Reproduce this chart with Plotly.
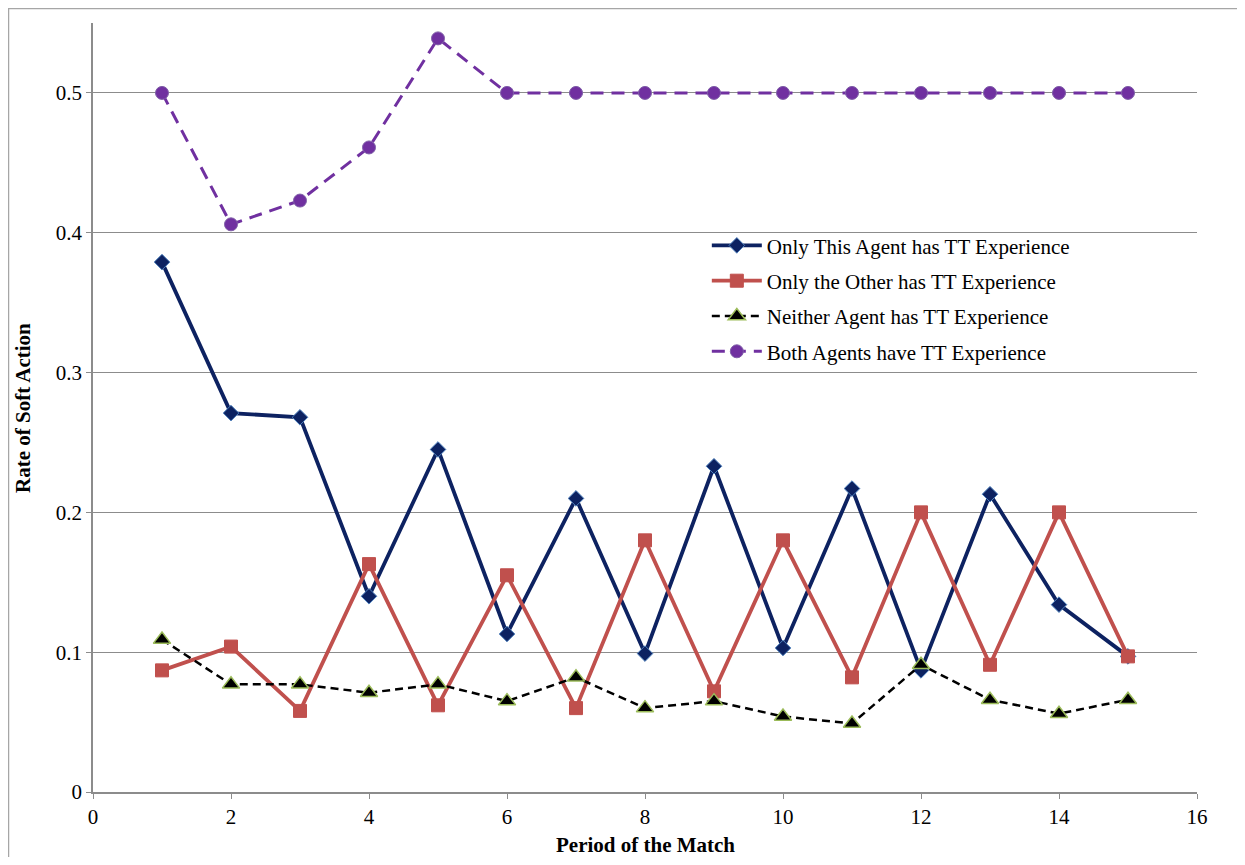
import plotly.graph_objects as go

periods = list(range(1, 16))
only_this = [0.379, 0.271, 0.268, 0.140, 0.245, 0.113, 0.210, 0.099, 0.233, 0.103, 0.217, 0.087, 0.213, 0.134, 0.097]
only_other = [0.087, 0.104, 0.058, 0.163, 0.062, 0.155, 0.060, 0.180, 0.072, 0.180, 0.082, 0.200, 0.091, 0.200, 0.097]
neither = [0.109, 0.077, 0.077, 0.071, 0.077, 0.065, 0.082, 0.060, 0.065, 0.054, 0.049, 0.091, 0.066, 0.056, 0.066]
both = [0.500, 0.406, 0.423, 0.461, 0.539, 0.500, 0.500, 0.500, 0.500, 0.500, 0.500, 0.500, 0.500, 0.500, 0.500]

names = ["Only This Agent has TT Experience", "Only the Other has TT Experience",
         "Neither Agent has TT Experience", "Both Agents have TT Experience"]

FONT = "Liberation Serif"
FS = 21

fig = go.Figure()
fig.add_trace(go.Scatter(
    x=periods, y=only_this, name=names[0], mode="lines+markers", legendgroup="a",
    line=dict(color="#0D2261", width=3.8),
    marker=dict(symbol="diamond", size=12, color="#0D2261", line=dict(color="#4F81BD", width=1))))
fig.add_trace(go.Scatter(
    x=periods, y=only_other, name=names[1], mode="lines+markers", legendgroup="b",
    line=dict(color="#C0504D", width=3.8),
    marker=dict(symbol="square", size=13, color="#C0504D", line=dict(color="#C0504D", width=1))))
fig.add_trace(go.Scatter(
    x=periods, y=neither, name=names[2], mode="lines+markers", legendgroup="c",
    line=dict(color="#000000", width=2.5, dash="8px,5px"),
    marker=dict(symbol="triangle-up", size=15, color="#000000", line=dict(color="#9BBB59", width=1.5))))
fig.add_trace(go.Scatter(
    x=periods, y=both, name=names[3], mode="lines+markers", legendgroup="d",
    line=dict(color="#7030A0", width=3, dash="13px,8px"),
    marker=dict(symbol="circle", size=13, color="#7030A0", line=dict(color="#8060A8", width=1))))

fig.update_layout(
    width=1229, height=849,
    margin=dict(l=85, r=40, t=15, b=65),
    paper_bgcolor="white", plot_bgcolor="white",
    font=dict(family=FONT, size=FS, color="#000000"),
    showlegend=True,
    legend=dict(x=0.556, y=0.737, xanchor="left", yanchor="top",
                bgcolor="rgba(0,0,0,0)", font=dict(family=FONT, size=FS, color="#000000"),
                tracegroupgap=5, itemwidth=50),
    xaxis=dict(range=[0, 16], tickvals=list(range(0, 17, 2)), showgrid=False,
               showline=True, linecolor="#8C8C8C", linewidth=1.5,
               ticks="outside", ticklen=5, tickcolor="#8C8C8C", zeroline=False,
               tickfont=dict(family=FONT, size=FS, color="#000000")),
    yaxis=dict(range=[0, 0.55], tickvals=[0, 0.1, 0.2, 0.3, 0.4, 0.5],
               ticktext=["0", "0.1", "0.2", "0.3", "0.4", "0.5"],
               showgrid=True, gridcolor="#8C8C8C", gridwidth=1.2,
               showline=True, linecolor="#8C8C8C", linewidth=1.5,
               ticks="outside", ticklen=5, tickcolor="#8C8C8C", zeroline=False,
               tickfont=dict(family=FONT, size=FS, color="#000000")),
)

fig.add_annotation(text="<b>Period of the Match</b>", xref="paper", yref="paper",
                   x=0.5, y=(792 - 845) / 769, xanchor="center", yanchor="middle",
                   showarrow=False, font=dict(family=FONT, size=FS, color="#000000"))
fig.add_annotation(text="<b>Rate of Soft Action</b>", xref="paper", yref="paper",
                   x=(23 - 93) / 1104, y=(792 - 408) / 769, xanchor="center", yanchor="middle",
                   textangle=-90, showarrow=False, font=dict(family=FONT, size=FS, color="#000000"))

fig.add_shape(type="rect", xref="paper", yref="paper",
              x0=(8.5 - 93) / 1104, x1=(1300 - 93) / 1104,
              y0=(792 - 900) / 769, y1=(792 - 8.5) / 769,
              line=dict(color="#A6A6A6", width=1.5), fillcolor="rgba(0,0,0,0)", layer="below")

fig.write_html("out.html")
